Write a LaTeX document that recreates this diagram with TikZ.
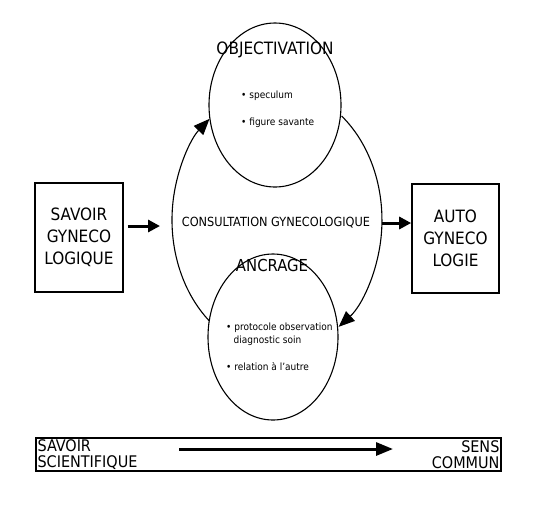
\documentclass[tikz,border=0pt]{standalone}
\usepackage{fontspec}
\setmainfont{DejaVu Sans Condensed}
\usetikzlibrary{arrows.meta,shapes.geometric}
\begin{document}
\begin{tikzpicture}[x=1pt,y=-1pt,
  boxstyle/.style={draw,line width=1.6pt,inner sep=0pt,align=center},
  bubble/.style={draw,ellipse,line width=1.1pt,fill=white,inner sep=0pt},
  thickarrow/.style={line width=3pt,-{Triangle[length=12pt,width=12pt]}},
  looparrow/.style={line width=1.1pt,-{Triangle[length=16pt,width=13pt]}},
  bigtxt/.style={font=\fontsize{17}{22}\selectfont},
  bartxt/.style={font=\fontsize{16}{16.5}\selectfont,inner sep=0pt},
  smalltxt/.style={font=\fontsize{10}{12.5}\selectfont,align=left,inner sep=0pt,anchor=west}]
\useasboundingbox (0,0) rectangle (545,512);
% small ellipses
\node[bubble,minimum width=132pt,minimum height=164pt] (obj) at (275,105) {};
\node[bubble,minimum width=130pt,minimum height=166pt] (anc) at (273,337) {};
% big loop arcs
\coordinate (l0) at (209.5,321.1);
\coordinate (r0) at (341.6,116.0);
\draw[looparrow] (l0) arc[start angle=230,end angle=130,x radius=105pt,y radius=132pt];
\draw[looparrow] (r0) arc[start angle=52,end angle=-54,x radius=105pt,y radius=132pt];
\coordinate (bigR) at (382,223);
% titles
\node[font=\fontsize{17}{18}\selectfont] (tobj) at (275,50) {OBJECTIVATION};
\node[font=\fontsize{16.5}{18}\selectfont] (tanc) at (272,265) {ANCRAGE};
\node[font=\fontsize{12.6}{14}\selectfont] (tcons) at (276,223) {CONSULTATION GYNECOLOGIQUE};
% bullets
\node[smalltxt] (b1) at (241,96) {• speculum};
\node[smalltxt] (b2) at (241,123) {• figure savante};
\node[smalltxt] (b3) at (226,334) {• protocole observation\\\hspace*{0.75em}diagnostic soin};
\node[smalltxt] (b4) at (226,367) {• relation à l'autre};
% boxes
\node[boxstyle,bigtxt,minimum width=88pt,minimum height=109pt] (sav) at (79,237.5) {SAVOIR\\GYNECO\\LOGIQUE};
\node[boxstyle,bigtxt,minimum width=87pt,minimum height=109pt] (auto) at (455.5,238.5) {AUTO\\GYNECO\\LOGIE};
\coordinate (lin) at (160,226);
\draw[thickarrow] (sav.east |- lin) ++(4,0) coordinate (lstart) -- (lin);
\draw[thickarrow] (bigR) -- (auto.west |- bigR);
% bottom bar
\node[draw,line width=1.2pt,minimum width=465pt,minimum height=33pt,inner sep=0pt] (bar) at (268.5,454.5) {};
\node[bartxt,align=left,anchor=west] (sci) at ([xshift=2pt]bar.west) {SAVOIR\\SCIENTIFIQUE};
\node[bartxt,align=right,anchor=east] (sens) at ([xshift=-2pt]bar.east) {SENS\\COMMUN};
\coordinate (a0) at (179,449);
\coordinate (a1) at (393,449);
\draw[line width=3pt,-{Triangle[length=17pt,width=13pt]}] (a0) -- (a1);
\end{tikzpicture}
\end{document}
